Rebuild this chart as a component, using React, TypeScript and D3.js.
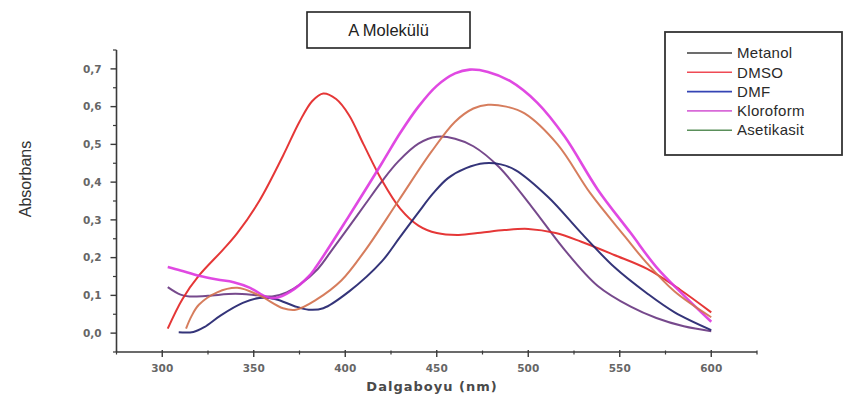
import { useEffect, useRef } from 'react'
import * as d3 from 'd3'

const SERIES = ['Metanol', 'DMSO', 'DMF', 'Kloroform', 'Asetikasit']
// curve colours as they appear in the plot, legend swatches as they appear in the box
const CURVE_COLORS = ['#6a3a82', '#e32626', '#23236e', '#dd3ae0', '#d2724f']
const LEGEND_COLORS = ['#3c3c3c', '#ef4a55', '#3444b4', '#d86ad8', '#5a8f5a']

const METANOL: [number, number][] = [
  [303, 0.122], [310, 0.102], [315, 0.097], [325, 0.099], [340, 0.104], [352, 0.1], [360, 0.097],
  [368, 0.108], [375, 0.128], [385, 0.17], [393, 0.222], [400, 0.268], [411, 0.342], [420, 0.402],
  [429, 0.455], [440, 0.502], [450, 0.52], [460, 0.515], [470, 0.495], [484, 0.44], [502, 0.334],
  [520, 0.22], [538, 0.125], [556, 0.07], [570, 0.04], [585, 0.018], [600, 0.005],
]
const DMSO: [number, number][] = [
  [303, 0.012], [311, 0.09], [320, 0.152], [333, 0.22], [341, 0.265], [353, 0.35], [366, 0.47],
  [375, 0.56], [382, 0.615], [388, 0.635], [395, 0.62], [402, 0.578], [410, 0.5], [420, 0.405],
  [430, 0.33], [440, 0.285], [450, 0.265], [462, 0.26], [474, 0.266], [487, 0.273], [500, 0.276],
  [515, 0.265], [529, 0.242], [547, 0.207], [565, 0.17], [583, 0.115], [600, 0.055],
]
const DMF: [number, number][] = [
  [309, 0.002], [317, 0.003], [323, 0.016], [332, 0.047], [344, 0.08], [353, 0.093], [362, 0.09],
  [372, 0.072], [380, 0.062], [388, 0.066], [402, 0.11], [420, 0.19], [430, 0.255], [440, 0.32],
  [448, 0.37], [456, 0.41], [466, 0.437], [476, 0.45], [485, 0.447], [493, 0.432], [511, 0.36],
  [529, 0.265], [547, 0.175], [565, 0.105], [580, 0.055], [600, 0.008],
]
const KLOROFORM: [number, number][] = [
  [303, 0.175], [310, 0.166], [320, 0.152], [330, 0.142], [339, 0.135], [348, 0.12], [357, 0.096],
  [362, 0.093], [370, 0.11], [380, 0.15], [384, 0.175], [402, 0.31], [420, 0.45], [430, 0.53],
  [440, 0.6], [450, 0.655], [460, 0.688], [468, 0.698], [478, 0.692], [490, 0.668], [505, 0.61],
  [520, 0.52], [538, 0.38], [556, 0.265], [570, 0.175], [585, 0.1], [600, 0.03],
]
const ASETIKASIT: [number, number][] = [
  [313, 0.012], [316, 0.045], [320, 0.075], [330, 0.108], [341, 0.12], [353, 0.1], [366, 0.066],
  [373, 0.062], [384, 0.088], [398, 0.14], [411, 0.22], [429, 0.35], [447, 0.48], [460, 0.56],
  [470, 0.595], [478, 0.605], [488, 0.6], [498, 0.582], [516, 0.5], [534, 0.37], [553, 0.255],
  [564, 0.19], [580, 0.11], [600, 0.042],
]
const VALUES = [METANOL, DMSO, DMF, KLOROFORM, ASETIKASIT]

const X_TICKS = [300, 350, 400, 450, 500, 550, 600]
const X_MINOR = [275, 325, 375, 425, 475, 525, 575, 625]
const Y_TICKS = [0, 0.1, 0.2, 0.3, 0.4, 0.5, 0.6, 0.7]
const Y_MINOR = [-0.05, 0.05, 0.15, 0.25, 0.35, 0.45, 0.55, 0.65, 0.75]

export default function App() {
  const svgRef = useRef<SVGSVGElement>(null)

  useEffect(() => {
    const W = 843, H = 407
    const svg = d3.select(svgRef.current!).attr('width', W).attr('height', H)
    svg.selectAll('*').remove()

    const x = d3.scaleLinear().domain([275, 625]).range([116.5, 757])
    const y = d3.scaleLinear().domain([-0.05, 0.75]).range([352, 50])
    const axisColor = '#3a3a3a'
    const tickFont = 'DejaVu Sans, sans-serif'
    const sans = 'Liberation Sans, Arial, sans-serif'

    // curves
    const line = d3.line<[number, number]>()
      .x(d => x(d[0])).y(d => y(d[1]))
      .curve(d3.curveCatmullRom.alpha(0.5))
    VALUES.forEach((vals, i) => {
      svg.append('path').attr('d', line(vals) ?? '')
        .attr('fill', 'none').attr('stroke', CURVE_COLORS[i])
        .attr('stroke-width', i === 3 ? 2.6 : 2).attr('stroke-linejoin', 'round')
        .attr('opacity', 0.92)
    })

    // x axis
    const gx = svg.append('g').attr('transform', `translate(0,${y(-0.05)})`)
    gx.append('line').attr('x1', x(275)).attr('x2', x(625)).attr('stroke', axisColor).attr('stroke-width', 1.6)
    gx.selectAll('line.maj').data(X_TICKS).join('line').attr('class', 'maj')
      .attr('x1', d => x(d)).attr('x2', d => x(d)).attr('y1', -2).attr('y2', 5)
      .attr('stroke', axisColor).attr('stroke-width', 1.4)
    gx.selectAll('line.min').data(X_MINOR).join('line').attr('class', 'min')
      .attr('x1', d => x(d)).attr('x2', d => x(d)).attr('y1', -1.5).attr('y2', 2.5)
      .attr('stroke', axisColor).attr('stroke-width', 1.2)
    gx.selectAll('text').data(X_TICKS).join('text')
      .attr('x', d => x(d)).attr('y', 20).attr('text-anchor', 'middle')
      .attr('font-family', tickFont).attr('font-weight', 'bold').attr('font-size', 10.5)
      .attr('fill', '#666').text(d => String(d))

    // y axis
    const gy = svg.append('g').attr('transform', `translate(${x(275)},0)`)
    gy.append('line').attr('y1', y(-0.05)).attr('y2', y(0.75)).attr('stroke', axisColor).attr('stroke-width', 1.6)
    gy.selectAll('line.maj').data(Y_TICKS).join('line').attr('class', 'maj')
      .attr('y1', d => y(d)).attr('y2', d => y(d)).attr('x1', -6).attr('x2', 0)
      .attr('stroke', axisColor).attr('stroke-width', 1.4)
    gy.selectAll('line.min').data(Y_MINOR).join('line').attr('class', 'min')
      .attr('y1', d => y(d)).attr('y2', d => y(d)).attr('x1', -3.5).attr('x2', 0)
      .attr('stroke', axisColor).attr('stroke-width', 1.2)
    gy.selectAll('text').data(Y_TICKS).join('text')
      .attr('x', -15).attr('y', d => y(d)).attr('dy', '0.35em').attr('text-anchor', 'end')
      .attr('font-family', tickFont).attr('font-weight', 'bold').attr('font-size', 10.5)
      .attr('fill', '#666').text(d => d3.format('.1f')(d).replace('.', ','))

    // axis titles
    svg.append('text').attr('x', 432).attr('y', 391).attr('text-anchor', 'middle')
      .attr('font-family', tickFont).attr('font-weight', 'bold').attr('font-size', 13)
      .attr('letter-spacing', 1).attr('fill', '#4a4a4a').text('Dalgaboyu (nm)')
    svg.append('text').attr('transform', 'translate(31,179) rotate(-90)').attr('text-anchor', 'middle')
      .attr('font-family', sans).attr('font-size', 16)
      .attr('fill', '#333').text('Absorbans')

    // title box
    svg.append('rect').attr('x', 307).attr('y', 12).attr('width', 163).attr('height', 36)
      .attr('fill', 'white').attr('stroke', '#222').attr('stroke-width', 1.6)
    svg.append('text').attr('x', 388.5).attr('y', 36).attr('text-anchor', 'middle')
      .attr('font-family', sans).attr('font-size', 16.5)
      .attr('fill', '#222').text('A Molekülü')

    // legend
    svg.append('rect').attr('x', 665).attr('y', 32).attr('width', 177).attr('height', 123)
      .attr('fill', 'white').attr('stroke', '#333').attr('stroke-width', 1.8)
    SERIES.forEach((name, i) => {
      const ly = 53 + i * 19.3
      svg.append('line').attr('x1', 687).attr('x2', 732).attr('y1', ly).attr('y2', ly)
        .attr('stroke', LEGEND_COLORS[i]).attr('stroke-width', 1.6)
      svg.append('text').attr('x', 737).attr('y', ly).attr('dy', '0.35em')
        .attr('font-family', sans).attr('font-size', 15).attr('letter-spacing', 0.3)
        .attr('fill', '#2a2a2a').text(name)
    })
  }, [])

  return (
    <svg ref={svgRef} style={{ position: 'absolute', left: 0, top: 0, background: 'white' }} />
  )
}
